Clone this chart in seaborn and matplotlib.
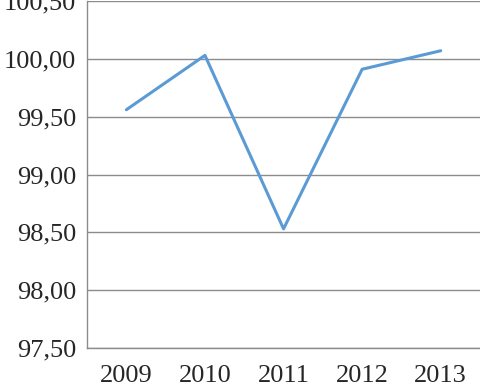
import matplotlib
matplotlib.use("Agg")
import matplotlib.pyplot as plt
import seaborn as sns
import pandas as pd
from matplotlib.ticker import FixedLocator, FuncFormatter

# ===== DATA =====
years = ["2009", "2010", "2011", "2012", "2013"]
values = [99.56, 100.03, 98.53, 99.91, 100.07]

df = pd.DataFrame({"year": years, "value": values})

sns.set_style("white")
plt.rcParams["font.family"] = ["Liberation Serif", "DejaVu Serif"]

fig = plt.figure(figsize=(4.81, 3.86), dpi=100)
ax = fig.add_axes([0.181, 0.0984, 0.817, 0.899])

sns.lineplot(data=df, x="year", y="value", color="#5B9BD5", linewidth=2.2,
             sort=False, ax=ax)

ax.set_ylim(97.5, 100.5)
ax.set_xlim(-0.5, len(years) - 0.5)
ax.set_yticks([97.5, 98.0, 98.5, 99.0, 99.5, 100.0, 100.5])
ax.yaxis.set_major_formatter(FuncFormatter(lambda v, p: f"{v:.2f}".replace(".", ",")))
ax.yaxis.grid(True, color="#8c8c8c", linewidth=1.0)
ax.set_axisbelow(True)

# category ticks between labels
ax.set_xticks(range(len(years)))
ax.set_xticklabels(years)
ax.xaxis.set_minor_locator(FixedLocator([i - 0.5 for i in range(len(years) + 1)]))
ax.tick_params(axis="x", which="major", length=0, pad=12, labelsize=19)
ax.tick_params(axis="x", which="minor", length=6, color="#8c8c8c", width=1.0)
ax.tick_params(axis="y", which="major", length=6, color="#8c8c8c", width=1.0,
               labelsize=19, pad=2)

for side in ["top", "right"]:
    ax.spines[side].set_visible(False)
for side in ["left", "bottom"]:
    ax.spines[side].set_color("#8c8c8c")
    ax.spines[side].set_linewidth(1.0)

ax.set_xlabel("")
ax.set_ylabel("")

fig.savefig("out.png", dpi=100)
